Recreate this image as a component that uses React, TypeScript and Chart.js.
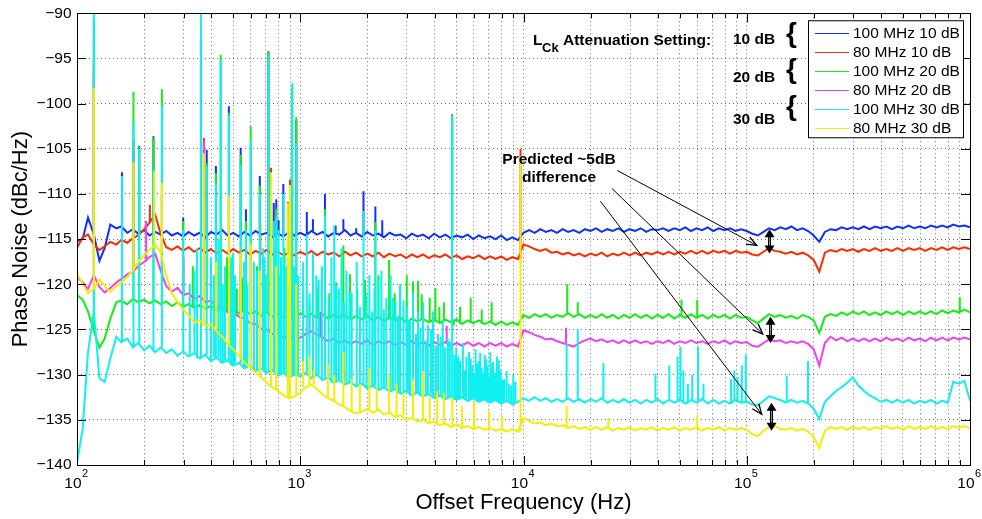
import React, { useEffect, useRef } from 'react';
import { Chart, registerables } from 'chart.js';

Chart.register(...registerables);

const FONT = "'Liberation Sans', Arial, Helvetica, sans-serif";

// Offset frequency grid of the measured noise floor (Hz)
const freqHz = [
  100, 106, 112, 119, 126, 133, 141, 150, 158, 168, 178, 188, 200, 211, 224, 237, 251, 266, 282, 299,
  316, 335, 355, 376, 398, 422, 447, 473, 501, 531, 562, 596, 631, 668, 708, 750, 794, 841, 891, 944,
  1000, 1059, 1122, 1189, 1259, 1334, 1413, 1496, 1585, 1679, 1778, 1884, 1995, 2113, 2239, 2371, 2512, 2661, 2818, 2985,
  3162, 3350, 3548, 3758, 3981, 4217, 4467, 4732, 5012, 5309, 5623, 5957, 6310, 6683, 7079, 7499, 7943, 8414, 8913, 9441,
  10000, 10593, 11220, 11885, 12589, 13335, 14125, 14962, 15849, 16788, 17783, 18836, 19953, 21135, 22387, 23714, 25119, 26607, 28184, 29854,
  31623, 33497, 35481, 37584, 39811, 42170, 44668, 47315, 50119, 53088, 56234, 59566, 63096, 66834, 70795, 74989, 79433, 84140, 89125, 94406,
  100000, 105925, 112202, 118850, 125893, 133352, 141254, 149624, 158489, 167880, 177828, 188365, 199526, 211349, 223872, 237137, 251189, 266073, 281838, 298538,
  316228, 334965, 354813, 375837, 398107, 421697, 446684, 473151, 501187, 530884, 562341, 595662, 630957, 668344, 707946, 749894, 794328, 841395, 891251, 944061,
  1000000,
];

// Noise floors (dBc/Hz) on freqHz
const blue100M10dB = [
  -115.2, -115.0, -112.6, -114.5, -117.4, -116.0, -113.4, -113.8, -113.6, -114.3,
  -113.9, -114.4, -114.0, -114.6, -114.2, -114.5, -114.1, -114.6, -114.3, -114.7,
  -114.2, -114.6, -114.3, -114.8, -114.2, -114.5, -114.0, -114.6, -114.3, -114.7,
  -114.2, -114.6, -114.1, -114.5, -114.3, -114.8, -114.4, -114.7, -114.2, -114.6,
  -114.3, -114.6, -114.1, -114.5, -114.2, -114.7, -114.3, -114.5, -114.0, -114.6,
  -114.3, -114.7, -114.2, -114.6, -114.4, -114.8, -114.3, -114.6, -114.5, -114.9,
  -114.4, -114.7, -114.5, -114.9, -114.4, -114.8, -114.5, -114.9, -114.6, -114.8,
  -114.5, -115.0, -114.6, -114.9, -114.7, -115.0, -114.6, -115.1, -114.8, -115.1,
  -114.3, -114.0, -114.3, -113.9, -114.2, -114.0, -114.3, -113.9, -114.2, -114.0,
  -114.3, -113.9, -114.1, -113.8, -114.2, -113.9, -114.1, -113.8, -114.2, -113.9,
  -114.1, -113.8, -114.2, -113.9, -114.0, -113.8, -114.1, -113.8, -114.0, -113.7,
  -114.1, -113.8, -114.0, -113.7, -114.1, -113.8, -114.0, -113.8, -114.1, -113.9,
  -114.1, -114.4, -114.6, -114.2, -113.8, -114.0, -113.7, -113.9, -113.6, -114.0,
  -113.8, -114.1, -114.6, -115.3, -114.2, -113.9, -114.0, -113.7, -113.9, -113.7,
  -113.9, -113.6, -113.9, -113.6, -113.8, -113.6, -113.9, -113.6, -113.8, -113.5,
  -113.8, -113.6, -113.8, -113.5, -113.7, -113.5, -113.7, -113.4, -113.6, -113.5,
  -113.7,
];

const red80M10dB = [
  -116.0, -114.8, -114.5, -115.6, -116.2, -115.8, -115.3, -115.6, -115.1, -115.4,
  -114.9, -114.6, -113.9, -113.2, -112.3, -114.4, -115.9, -116.2, -115.8, -116.3,
  -115.9, -116.4, -116.0, -116.5, -116.1, -116.6, -116.2, -116.6, -116.1, -116.5,
  -116.2, -116.7, -116.3, -116.6, -116.2, -116.7, -116.4, -116.8, -116.5, -116.8,
  -116.4, -116.7, -116.3, -116.8, -116.4, -116.7, -116.5, -116.9, -116.4, -116.8,
  -116.5, -116.9, -116.6, -116.9, -116.5, -117.0, -116.6, -116.9, -116.7, -117.1,
  -116.7, -117.0, -116.7, -117.1, -116.8, -117.0, -116.7, -117.1, -116.8, -117.2,
  -116.9, -117.1, -116.8, -117.2, -116.9, -117.2, -116.9, -117.3, -117.0, -117.2,
  -115.6, -115.8, -116.1, -116.3, -116.1, -116.5, -116.4, -116.7, -116.5, -116.8,
  -116.6, -116.9, -116.6, -116.8, -116.5, -116.9, -116.6, -116.8, -116.5, -116.8,
  -116.5, -116.8, -116.5, -116.7, -116.4, -116.7, -116.4, -116.7, -116.4, -116.6,
  -116.3, -116.6, -116.3, -116.6, -116.3, -116.5, -116.3, -116.6, -116.3, -116.5,
  -116.4, -116.7, -116.8, -116.4, -116.0, -116.3, -116.4, -116.6, -116.4, -116.7,
  -116.5, -116.8, -117.3, -118.6, -116.5, -116.2, -116.4, -116.1, -116.3, -116.1,
  -116.4, -116.1, -116.3, -116.0, -116.3, -116.1, -116.3, -116.0, -116.3, -116.0,
  -116.2, -116.0, -116.3, -116.0, -116.2, -115.9, -116.2, -115.9, -116.1, -115.9,
  -116.1,
];

const green100M20dB = [
  -121.2, -121.7, -123.0, -125.2, -127.0, -126.0, -123.8, -122.0, -121.8, -122.2,
  -121.6, -122.0, -121.7, -122.1, -121.8, -122.2, -121.9, -122.4, -122.0, -122.5,
  -122.2, -122.6, -122.3, -122.7, -122.4, -122.9, -122.6, -123.0, -122.7, -123.2,
  -122.9, -123.3, -123.0, -123.5, -123.1, -123.6, -123.2, -123.7, -123.4, -123.8,
  -123.2, -123.6, -123.3, -123.7, -123.3, -123.8, -123.4, -123.7, -123.4, -123.9,
  -123.5, -123.9, -123.5, -124.0, -123.6, -124.1, -123.7, -124.0, -123.7, -124.2,
  -123.8, -124.1, -123.8, -124.2, -123.9, -124.3, -123.9, -124.2, -123.9, -124.4,
  -124.0, -124.3, -124.0, -124.4, -124.1, -124.5, -124.1, -124.5, -124.2, -124.5,
  -123.4, -123.7, -123.3, -123.6, -123.3, -123.7, -123.4, -123.6, -123.2, -123.6,
  -123.3, -123.7, -123.4, -123.7, -123.3, -123.7, -123.4, -123.8, -123.4, -123.7,
  -123.3, -123.7, -123.4, -123.8, -123.4, -123.7, -123.3, -123.8, -123.4, -123.7,
  -123.3, -123.7, -123.4, -123.8, -123.4, -123.7, -123.4, -123.8, -123.4, -123.7,
  -123.6, -124.0, -124.3, -123.8, -123.3, -123.6, -123.4, -123.7, -123.5, -123.8,
  -123.4, -123.6, -124.0, -125.4, -123.6, -123.3, -123.5, -123.1, -123.4, -123.0,
  -123.3, -123.0, -123.4, -123.1, -123.4, -123.0, -123.3, -123.0, -123.4, -123.0,
  -123.3, -123.0, -123.3, -123.0, -123.3, -122.9, -123.2, -122.9, -123.1, -122.8,
  -123.1,
];

const magenta80M20dB = [
  -119.2, -119.8, -120.5, -119.0, -120.3, -120.9, -120.4, -119.8, -119.4, -118.9,
  -118.6, -118.0, -117.5, -117.0, -116.6, -118.5, -120.2, -120.8, -120.4, -121.2,
  -121.0, -121.6, -121.3, -122.0, -121.8, -122.5, -122.4, -123.1, -123.0, -123.6,
  -123.8, -124.3, -124.4, -124.9, -125.0, -125.5, -125.4, -125.9, -125.8, -126.2,
  -125.9, -125.5, -125.2, -125.6, -125.9, -126.3, -126.0, -126.5, -126.2, -126.6,
  -126.3, -126.6, -126.2, -126.7, -126.3, -126.6, -126.3, -126.7, -126.4, -126.7,
  -126.3, -126.7, -126.4, -126.8, -126.4, -126.7, -126.4, -126.8, -126.5, -126.8,
  -126.4, -126.8, -126.5, -126.9, -126.5, -126.8, -126.5, -126.9, -126.6, -126.9,
  -125.1, -125.3, -125.6, -125.8, -126.1, -126.0, -126.3, -126.5, -126.7, -126.9,
  -126.5, -126.2, -126.0, -126.3, -126.1, -126.4, -126.2, -126.5, -126.2, -126.5,
  -126.2, -126.5, -126.3, -126.6, -126.3, -126.5, -126.2, -126.6, -126.3, -126.5,
  -126.2, -126.5, -126.3, -126.6, -126.3, -126.5, -126.2, -126.6, -126.3, -126.5,
  -126.4, -126.8, -126.9, -126.5, -126.1, -126.3, -126.2, -126.5, -126.3, -126.5,
  -126.3, -126.6, -127.2, -129.0, -126.5, -125.8, -126.2, -125.9, -126.3, -126.0,
  -126.3, -126.0, -126.3, -126.0, -126.3, -125.9, -126.2, -126.0, -126.3, -125.9,
  -126.2, -126.0, -126.3, -125.9, -126.2, -125.9, -126.2, -125.9, -126.1, -125.9,
  -126.1,
];

const cyan100M30dB = [
  -139.8, -136.0, -127.5, -123.0, -130.4, -130.8, -128.2, -125.8, -126.4, -126.0,
  -127.0, -126.5, -127.3, -126.8, -127.5, -127.0, -127.6, -127.2, -127.9, -127.4,
  -128.0, -127.6, -128.2, -127.8, -128.5, -128.1, -128.7, -128.4, -129.0, -128.7,
  -129.3, -129.0, -129.6, -129.3, -129.8, -129.5, -130.1, -129.8, -130.3, -130.0,
  -130.2, -129.8, -130.4, -130.0, -130.6, -130.3, -130.9, -130.6, -131.1, -130.8,
  -131.3, -131.0, -131.5, -131.2, -131.7, -131.4, -131.9, -131.6, -132.1, -131.8,
  -132.3, -132.0, -132.4, -132.1, -132.6, -132.3, -132.7, -132.4, -132.8, -132.5,
  -132.9, -132.6, -133.0, -132.7, -133.1, -132.8, -133.2, -132.9, -133.3, -133.0,
  -132.6, -132.9, -132.5, -132.9, -132.6, -133.0, -132.7, -133.0, -132.6, -133.0,
  -132.7, -133.1, -132.7, -133.0, -132.6, -133.1, -132.8, -133.1, -132.7, -133.1,
  -132.8, -133.2, -132.8, -133.1, -132.7, -133.2, -132.8, -133.1, -132.8, -133.2,
  -132.8, -133.1, -132.7, -133.2, -132.8, -133.2, -132.9, -133.2, -132.8, -133.1,
  -133.0, -133.3, -133.4, -132.9, -132.4, -132.6, -132.8, -133.1, -132.8, -133.1,
  -132.9, -133.2, -133.8, -134.9, -133.0, -132.4, -131.8, -131.4, -130.9, -130.3,
  -131.2, -131.8, -132.3, -132.6, -133.0, -132.8, -133.1, -132.8, -133.1, -132.8,
  -133.2, -132.9, -133.1, -132.8, -133.2, -132.9, -133.1, -130.8, -131.0, -130.7,
  -132.9,
];

const yellow80M30dB = [
  -118.8, -120.0, -121.0, -120.5, -119.5, -120.2, -120.8, -120.2, -119.8, -119.2,
  -118.5, -117.5, -116.8, -116.2, -115.6, -116.5, -119.0, -121.0, -122.0, -122.8,
  -123.4, -124.2, -124.0, -124.6, -124.4, -125.2, -125.8, -126.6, -127.2, -127.9,
  -128.6, -129.2, -129.8, -130.3, -130.9, -131.4, -131.8, -132.3, -132.6, -132.4,
  -132.0, -131.4, -131.1, -131.6, -132.2, -132.6, -132.9, -133.3, -133.6, -134.0,
  -134.3, -134.1, -133.8, -134.2, -133.9, -134.4, -134.2, -134.7, -134.5, -135.0,
  -134.8, -135.2, -135.0, -135.4, -135.2, -135.6, -135.4, -135.8, -135.5, -135.9,
  -135.7, -136.0, -135.8, -136.1, -135.9, -136.2, -136.0, -136.3, -136.0, -136.3,
  -134.8, -135.1, -135.4, -135.3, -135.6, -135.4, -135.7, -135.6, -135.9, -135.7,
  -136.0, -135.8, -136.1, -135.8, -136.1, -135.8, -136.2, -135.9, -136.1, -135.8,
  -136.2, -135.9, -136.1, -135.8, -136.2, -135.9, -136.1, -135.8, -136.2, -135.9,
  -136.1, -135.8, -136.2, -135.9, -136.1, -135.8, -136.2, -135.9, -136.1, -135.9,
  -136.1, -136.6, -136.8, -136.2, -135.8, -135.7, -136.0, -136.1, -135.9, -136.2,
  -136.0, -136.3, -136.9, -138.1, -136.2, -135.8, -136.0, -135.8, -136.1, -135.8,
  -136.0, -135.8, -136.1, -135.8, -136.0, -135.7, -136.0, -135.8, -136.1, -135.7,
  -136.0, -135.8, -136.0, -135.7, -136.0, -135.8, -136.0, -135.7, -135.9, -135.7,
  -135.9,
];

// Discrete spurs: [frequency Hz, peak dBc/Hz]
const blue100M10dBSpurs: [number, number][] = [
  [119, -91.0], [159, -107.6], [179, -104.0], [190, -104.7], [220, -103.6], [299, -112.6],
  [359, -93.0], [381, -105.1], [419, -106.9], [479, -100.3], [541, -104.9], [571, -111.7],
  [659, -108.0], [720, -94.2], [761, -111.0], [781, -110.6], [800, -112.9],
  [840, -108.9], [960, -101.8], [1070, -112.0], [1140, -112.8], [1290, -110.0], [1440, -113.5],
  [1560, -112.8], [1780, -113.8], [1920, -109.7], [2170, -111.4], [2330, -112.9], [4790, -101.2],
];

const red80M10dBSpurs: [number, number][] = [
  [119, -95.5], [212, -111.2], [370, -103.8], [662, -112.9], [740, -107.1], [880, -110.9],
  [900, -108.4], [9700, -105.0],
];

const green100M20dBSpurs: [number, number][] = [
  [119, -93.0], [179, -98.7], [190, -104.8], [220, -103.8], [240, -98.4], [299, -113.0],
  [330, -118.0], [381, -106.6], [419, -107.7], [440, -94.6], [470, -117.0], [479, -101.0],
  [520, -120.5], [541, -105.7], [551, -119.3], [571, -113.0], [600, -102.5], [640, -118.0],
  [659, -109.1], [700, -119.0], [720, -94.3], [781, -111.7], [850, -116.0], [921, -98.2],
  [960, -101.5], [1030, -121.1], [1100, -122.0], [1200, -120.5], [1290, -111.7], [1350, -121.0],
  [1450, -119.8], [1560, -115.7], [1670, -118.9], [1800, -120.5], [1950, -119.5], [2170, -113.1],
  [2240, -119.0], [2500, -117.3], [2650, -121.0], [2800, -120.2], [3000, -119.0], [3200, -119.7],
  [3370, -119.6], [3500, -121.1], [3800, -121.5], [4030, -120.4], [4200, -122.5], [4400, -122.0],
  [4790, -101.3], [4870, -124.5], [5200, -122.5], [5800, -121.5], [6500, -122.8], [7200, -122.0],
  [15700, -120.0], [17500, -122.0], [51000, -121.7], [60000, -121.7], [900000, -121.4],
];

const magenta80M20dBSpurs: [number, number][] = [
  [119, -96.8], [179, -105.0], [204, -113.0], [240, -110.0], [300, -117.0], [370, -104.2],
  [420, -117.0], [480, -112.0], [541, -118.0], [660, -116.0], [740, -109.0], [900, -112.0],
  [1100, -123.5], [1230, -123.0], [4530, -124.6], [15500, -124.8],
];

const cyan100M30dBSpurs: [number, number][] = [
  [119, -86.0], [159, -108.0], [179, -102.0], [190, -105.0], [220, -107.3], [240, -100.3],
  [299, -114.0], [320, -120.0], [336, -118.5], [345, -116.0], [359, -86.0], [381, -107.0],
  [398, -117.0], [410, -119.0], [419, -108.8], [430, -115.0], [440, -95.2], [450, -120.0],
  [460, -118.0], [479, -101.4], [490, -117.0], [500, -116.5], [510, -119.0], [541, -106.8],
  [560, -117.5], [571, -114.0], [580, -120.0], [600, -104.0], [620, -117.5], [640, -118.5],
  [659, -110.0], [680, -116.0], [690, -117.0], [700, -119.0], [720, -94.8], [740, -119.5],
  [761, -113.0], [770, -116.0], [781, -112.5], [800, -114.0], [810, -119.0], [820, -117.0],
  [840, -110.0], [850, -117.0], [870, -118.0], [880, -120.0], [900, -115.5], [921, -97.7],
  [940, -118.0], [960, -104.4], [980, -119.0], [1030, -117.5], [1070, -114.5], [1100, -121.0],
  [1140, -116.5], [1180, -119.0], [1210, -119.5], [1250, -118.0], [1290, -112.4], [1340, -121.5],
  [1380, -117.0], [1420, -113.5], [1450, -120.0], [1490, -120.5], [1530, -116.0], [1570, -122.0],
  [1610, -118.5], [1660, -120.8], [1700, -121.0], [1790, -117.5], [1850, -122.5], [1920, -111.9],
  [1980, -121.0], [2040, -119.0], [2100, -123.0], [2150, -120.5], [2170, -114.0], [2240, -119.5],
  [2310, -118.5], [2370, -122.8], [2430, -121.5], [2540, -119.0], [2600, -121.5], [2670, -122.0],
  [2740, -123.5], [2800, -120.0], [2900, -121.8], [2990, -122.5], [3050, -124.0], [3100, -124.0],
  [3200, -121.0], [3300, -125.5], [3370, -123.0], [3450, -124.8], [3550, -122.0], [3650, -126.2],
  [3730, -124.5], [3850, -125.0], [3930, -123.0], [4050, -126.8], [4140, -125.5], [4250, -125.8],
  [4350, -124.0], [4450, -127.0], [4580, -126.0], [4680, -126.3], [4790, -101.4], [4900, -127.8],
  [5000, -127.0], [5100, -128.0], [5200, -128.5], [5350, -126.5], [5450, -129.5], [5550, -128.0],
  [5700, -127.5], [5800, -128.2], [5900, -129.0], [6000, -130.0], [6100, -127.2], [6200, -128.8],
  [6300, -128.5], [6400, -127.6], [6500, -129.2], [6600, -129.8], [6700, -127.8], [6800, -128.3],
  [6900, -129.0], [7000, -130.2], [7100, -127.5], [7200, -128.9], [7300, -128.6], [7450, -129.8],
  [7600, -128.0], [7750, -128.4], [7900, -129.5], [8050, -130.6], [8200, -130.5], [8400, -129.6],
  [8600, -131.0], [8800, -131.2], [9000, -130.0], [9200, -130.8],
  [15600, -126.5], [17500, -125.0], [22800, -128.7], [39000, -129.9], [45000, -129.0], [49000, -128.0],
  [50500, -126.9], [52000, -129.5], [54500, -131.0], [57000, -130.0], [60500, -126.9], [64000, -131.0],
  [85000, -130.5], [88000, -129.5], [91000, -130.3], [95000, -129.0], [99000, -127.8], [151000, -130.1],
  [188000, -128.5],
];

const yellow80M30dBSpurs: [number, number][] = [
  [119, -98.3], [179, -106.5], [222, -107.5], [240, -108.8], [370, -105.5], [420, -117.5],
  [479, -110.2], [541, -116.5], [600, -115.5], [660, -118.5], [740, -107.6], [780, -118.0],
  [880, -111.0], [900, -109.0], [960, -120.0], [1030, -128.5], [1100, -128.0], [1150, -129.5],
  [1330, -128.8], [1420, -130.0], [1560, -127.5], [1700, -130.5], [1850, -131.0], [2040, -129.2],
  [2200, -131.5], [2500, -130.0], [2700, -131.0], [2900, -132.0], [3200, -130.5], [3550, -129.6],
  [3800, -132.5], [4100, -131.8], [4400, -132.0], [4800, -132.5], [5300, -133.5], [6000, -133.0],
  [7000, -134.0], [8000, -134.5], [9700, -105.8], [15600, -133.5], [24000, -134.8], [60000, -134.5],
];

const seriesLabels = [
  '100 MHz 10 dB', '80 MHz 10 dB', '100 MHz 20 dB', '80 MHz 20 dB', '100 MHz 30 dB', '80 MHz 30 dB',
];
const seriesColors = ['#1030ff', '#ff2a00', '#14ee14', '#f040f0', '#10f0f0', '#f6ee00'];
const seriesFloors = [blue100M10dB, red80M10dB, green100M20dB, magenta80M20dB, cyan100M30dB, yellow80M30dB];
const seriesSpurs = [
  blue100M10dBSpurs, red80M10dBSpurs, green100M20dBSpurs, magenta80M20dBSpurs, cyan100M30dBSpurs, yellow80M30dBSpurs,
];

const yTicks = [-140, -135, -130, -125, -120, -115, -110, -105, -100, -95, -90];
const xDecades = [100, 1000, 10000, 100000, 1000000];
const xDecadeExponents = ['2', '3', '4', '5', '6'];
const xMinorSteps = [2, 3, 4, 5, 6, 7, 8, 9];

// "Predicted ~5dB difference" pointers: [Hz, dBc/Hz]
const pointerFrom: [number, number][] = [[26300, -107.4], [24900, -109.4], [22100, -110.8]];
const pointerTo: [number, number][] = [[110900, -115.7], [117900, -125.5], [116700, -134.4]];
// 5 dB gap markers: [Hz, upper dBc/Hz, lower dBc/Hz]
const gapMarkers: [number, number, number][] = [
  [125500, -113.9, -116.6], [126500, -123.6, -126.5], [129000, -133.1, -136.2],
];

type Pt = { x: number; y: number | null };

function buildSeries(floor: number[], spurs: [number, number][]): Pt[] {
  const pts: Pt[] = freqHz.map((f, i) => ({ x: f, y: floor[i] }));
  for (const [f, peak] of spurs) {
    // spur rises from the floor value at the nearest grid frequency
    let k = 0;
    let best = Infinity;
    freqHz.forEach((g, i) => {
      const d = Math.abs(Math.log(g / f));
      if (d < best) { best = d; k = i; }
    });
    pts.push({ x: f, y: null }, { x: f, y: floor[k] }, { x: f, y: peak });
  }
  return pts;
}

function arrowHead(ctx: CanvasRenderingContext2D, x0: number, y0: number, x1: number, y1: number, len: number, spread: number) {
  const a = Math.atan2(y1 - y0, x1 - x0);
  ctx.beginPath();
  ctx.moveTo(x1 - len * Math.cos(a - spread), y1 - len * Math.sin(a - spread));
  ctx.lineTo(x1, y1);
  ctx.lineTo(x1 - len * Math.cos(a + spread), y1 - len * Math.sin(a + spread));
  ctx.stroke();
}

const framePlugin = {
  id: 'matlabFrame',
  afterDraw(chart: any) {
    const { ctx, chartArea, scales } = chart;
    const { left, top, right, bottom } = chartArea;
    const xs = scales.x;
    const ys = scales.y;
    ctx.save();

    // box and inward ticks
    ctx.strokeStyle = '#000';
    ctx.lineWidth = 1;
    ctx.beginPath();
    xDecades.forEach((d, i) => {
      const px = Math.round(xs.getPixelForValue(d)) + 0.5;
      ctx.moveTo(px, bottom); ctx.lineTo(px, bottom - 9);
      ctx.moveTo(px, top); ctx.lineTo(px, top + 9);
      if (i < xDecades.length - 1) {
        xMinorSteps.forEach((m) => {
          const p = Math.round(xs.getPixelForValue(d * m)) + 0.5;
          ctx.moveTo(p, bottom); ctx.lineTo(p, bottom - 5);
          ctx.moveTo(p, top); ctx.lineTo(p, top + 5);
        });
      }
    });
    yTicks.forEach((v) => {
      const py = Math.round(ys.getPixelForValue(v)) + 0.5;
      ctx.moveTo(left, py); ctx.lineTo(left + 9, py);
      ctx.moveTo(right, py); ctx.lineTo(right - 9, py);
    });
    ctx.stroke();
    ctx.strokeRect(Math.round(left) + 0.5, Math.round(top) + 0.5, Math.round(right - left), Math.round(bottom - top));

    // decade labels 10^n
    ctx.fillStyle = '#000';
    ctx.textBaseline = 'alphabetic';
    ctx.textAlign = 'left';
    xDecades.forEach((d, i) => {
      const px = xs.getPixelForValue(d);
      ctx.font = `15.5px ${FONT}`;
      const w1 = ctx.measureText('10').width;
      ctx.font = `11px ${FONT}`;
      const w2 = ctx.measureText(xDecadeExponents[i]).width;
      const x0 = px - (w1 + w2) / 2 - 1;
      ctx.font = `15.5px ${FONT}`;
      ctx.fillText('10', x0, bottom + 23);
      ctx.font = `11px ${FONT}`;
      ctx.fillText(xDecadeExponents[i], x0 + w1 + 0.5, bottom + 12);
    });

    // legend
    const lx = right - 162;
    const ly = top + 7;
    ctx.fillStyle = '#fff';
    ctx.fillRect(lx, ly, 155, 117);
    ctx.strokeStyle = '#000';
    ctx.lineWidth = 1;
    ctx.strokeRect(lx + 0.5, ly + 0.5, 155, 117);
    ctx.font = `15.5px ${FONT}`;
    ctx.textBaseline = 'middle';
    seriesLabels.forEach((label, i) => {
      const yy = ly + 12.5 + i * 19;
      ctx.strokeStyle = seriesColors[i];
      ctx.lineWidth = 1.2;
      ctx.beginPath();
      ctx.moveTo(lx + 7, Math.round(yy) + 0.5);
      ctx.lineTo(lx + 41, Math.round(yy) + 0.5);
      ctx.stroke();
      ctx.fillStyle = '#000';
      ctx.fillText(label, lx + 45, yy + 1);
    });

    // attenuation-setting notes
    ctx.fillStyle = '#000';
    ctx.textBaseline = 'alphabetic';
    ctx.textAlign = 'left';
    ctx.font = `bold 15.5px ${FONT}`;
    ctx.fillText('L', 533, 45);
    ctx.font = `bold 13px ${FONT}`;
    ctx.fillText('Ck', 542, 52);
    ctx.font = `bold 15.5px ${FONT}`;
    ctx.fillText('Attenuation Setting:', 563, 44.5);
    ctx.fillText('10 dB', 733, 44);
    ctx.fillText('20 dB', 733, 82);
    ctx.fillText('30 dB', 733, 124);
    ctx.font = `bold 28px ${FONT}`;
    ctx.fillText('{', 786, 42);
    ctx.fillText('{', 786, 78);
    ctx.fillText('{', 786, 115);
    ctx.font = `bold 15.5px ${FONT}`;
    ctx.textAlign = 'center';
    ctx.fillText('Predicted ~5dB', 559, 164);
    ctx.fillText('difference', 559, 182);

    // pointers
    ctx.strokeStyle = '#000';
    ctx.lineWidth = 1;
    pointerFrom.forEach(([f0, v0], i) => {
      const [f1, v1] = pointerTo[i];
      const x0 = xs.getPixelForValue(f0);
      const y0 = ys.getPixelForValue(v0);
      const x1 = xs.getPixelForValue(f1);
      const y1 = ys.getPixelForValue(v1);
      ctx.beginPath();
      ctx.moveTo(x0, y0);
      ctx.lineTo(x1, y1);
      ctx.stroke();
      ctx.lineWidth = 1.3;
      arrowHead(ctx, x0, y0, x1, y1, 11, 0.38);
      ctx.lineWidth = 1;
    });

    // double-headed gap markers
    gapMarkers.forEach(([f, vTop, vBot]) => {
      const x = Math.round(xs.getPixelForValue(f)) + 0.5;
      const y0 = ys.getPixelForValue(vTop);
      const y1 = ys.getPixelForValue(vBot);
      ctx.strokeStyle = '#000';
      ctx.lineWidth = 3;
      ctx.beginPath();
      ctx.moveTo(x, y0 + 6);
      ctx.lineTo(x, y1 - 6);
      ctx.stroke();
      ctx.strokeStyle = '#888';
      ctx.lineWidth = 1;
      ctx.beginPath();
      ctx.moveTo(x, y0 + 8);
      ctx.lineTo(x, y1 - 8);
      ctx.stroke();
      ctx.fillStyle = '#000';
      ctx.beginPath();
      ctx.moveTo(x, y0);
      ctx.lineTo(x - 5, y0 + 8);
      ctx.lineTo(x + 5, y0 + 8);
      ctx.closePath();
      ctx.fill();
      ctx.beginPath();
      ctx.moveTo(x, y1);
      ctx.lineTo(x - 5, y1 - 8);
      ctx.lineTo(x + 5, y1 - 8);
      ctx.closePath();
      ctx.fill();
    });

    ctx.restore();
  },
};

export default function App() {
  const canvasRef = useRef<HTMLCanvasElement>(null);

  useEffect(() => {
    if (!canvasRef.current) return;
    Chart.defaults.font.family = FONT;
    Chart.defaults.color = '#000';

    const xGrid: number[] = [];
    xDecades.forEach((d, i) => {
      xGrid.push(d);
      if (i < xDecades.length - 1) xMinorSteps.forEach((m) => xGrid.push(d * m));
    });

    const datasets = seriesLabels.map((label, i) => ({
      label,
      data: buildSeries(seriesFloors[i], seriesSpurs[i]),
      borderColor: seriesColors[i],
      backgroundColor: seriesColors[i],
      borderWidth: 2,
      pointRadius: 0,
      tension: 0,
      spanGaps: false,
      order: seriesLabels.length - 1 - i,
    }));

    const chart = new Chart(canvasRef.current, {
      type: 'line',
      data: { datasets },
      options: {
        animation: false,
        responsive: false,
        devicePixelRatio: 1,
        layout: { padding: { top: 9, right: 12, left: 0, bottom: 0 } },
        plugins: { legend: { display: false }, tooltip: { enabled: false } },
        scales: {
          x: {
            type: 'logarithmic',
            min: 100,
            max: 1000000,
            afterBuildTicks: (s: any) => { s.ticks = xGrid.map((v) => ({ value: v })); },
            afterFit: (s: any) => { s.height = 54; },
            ticks: { display: false },
            grid: { color: 'rgba(0,0,0,0.55)', lineWidth: 1, drawTicks: false },
            border: { display: false, dash: [1, 3] },
            title: {
              display: true,
              text: 'Offset Frequency (Hz)',
              font: { size: 22 },
              padding: { top: 0, bottom: 3 },
            },
          },
          y: {
            type: 'linear',
            min: -140,
            max: -90,
            afterBuildTicks: (s: any) => { s.ticks = yTicks.map((v) => ({ value: v })); },
            afterFit: (s: any) => { s.width = 77; },
            ticks: {
              font: { size: 15.5, lineHeight: 1 },
              padding: 5.5,
              callback: (v: any) => (Number(v) < 0 ? '\u2212' + Math.abs(Number(v)) : String(v)),
            },
            grid: { color: 'rgba(0,0,0,0.55)', lineWidth: 1, drawTicks: false },
            border: { display: false, dash: [1, 3] },
            title: {
              display: true,
              text: 'Phase Noise (dBc/Hz)',
              font: { size: 22 },
              padding: { top: 8, bottom: 0 },
            },
          },
        },
      },
      plugins: [framePlugin],
    } as any);

    return () => chart.destroy();
  }, []);

  return (
    <div style={{ position: 'absolute', left: 0, top: 0, width: 982, height: 519, background: '#fff' }}>
      <canvas ref={canvasRef} width={982} height={519} style={{ display: 'block' }} />
    </div>
  );
}
